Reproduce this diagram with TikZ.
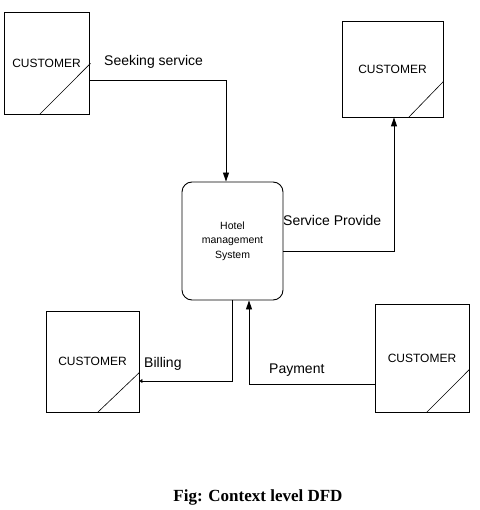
\documentclass[tikz,border=0pt]{standalone}
\usepackage{fontspec}
\setmainfont{Liberation Sans}
\newfontfamily\capfont{Liberation Serif}
\usetikzlibrary{arrows.meta,calc}
\begin{document}
\begin{tikzpicture}[x=1pt,y=-1pt,
  ext/.style={draw,line width=0.9pt,inner sep=0pt,font=\fontsize{12}{14}\selectfont},
  proc/.style={draw,line width=0.9pt,rounded corners=10pt,inner sep=0pt,align=center,font=\fontsize{10.5}{14.5}\selectfont},
  flow/.style={line width=0.9pt,-{Triangle[length=9pt,width=6pt]}},
  lbl/.style={anchor=west,inner sep=0pt,font=\fontsize{14}{16}\selectfont},
  diag/.style={line width=0.6pt}]
\useasboundingbox (0,0) rectangle (479,510);
% external entities
\node[ext,minimum width=85pt,minimum height=102pt] (b1) at (46.5,63) {CUSTOMER};
\node[ext,minimum width=101pt,minimum height=96pt] (b2) at (392.5,69) {CUSTOMER};
\node[ext,minimum width=93pt,minimum height=101pt] (b3) at (92.5,361.5) {CUSTOMER};
\node[ext,minimum width=94pt,minimum height=108pt] (b4) at (422,358) {CUSTOMER};
% diagonal corner marks
\draw[diag] ($(b1.south west)+(36,0)$) -- ($(b1.south east)+(1,-51)$);
\draw[diag] ($(b2.south west)+(67,0)$) -- ($(b2.south east)+(0,-36)$);
\draw[diag] ($(b3.south west)+(52,0)$) -- ($(b3.south east)+(0,-40)$);
\draw[diag] ($(b4.south west)+(52,0)$) -- ($(b4.south east)+(0,-43)$);
% process
\node[proc,minimum width=101pt,minimum height=118pt] (p) at (232.5,241) {Hotel\\management\\System};
% flows
\draw[flow] ($(b1.east)+(0,17)$) -| ($(p.north)+(-6.5,0)$);
\draw[flow] ($(p.east)+(0,10)$) -| ($(b2.south)+(1.5,0)$);
\draw[line width=0.9pt,-{Triangle[length=3pt,width=4pt]}] ($(p.south)+(-0.5,0)$) |- ($(b3.east)+(0,19.5)$);
\draw[flow] ($(b4.west)+(0,26)$) -| ($(p.south)+(16.5,0)$);
% labels
\node[lbl] (l1) at (104,62) {Seeking service};
\node[lbl] (l2) at (283,220) {Service Provide};
\node[lbl] (l3) at (144,364) {Billing};
\node[lbl] (l4) at (269,370) {Payment};
% caption
\node[font=\capfont\bfseries\fontsize{17}{20}\selectfont,inner sep=0pt] (cap) at (258,497) {Fig: Context level DFD};
\end{tikzpicture}
\end{document}
